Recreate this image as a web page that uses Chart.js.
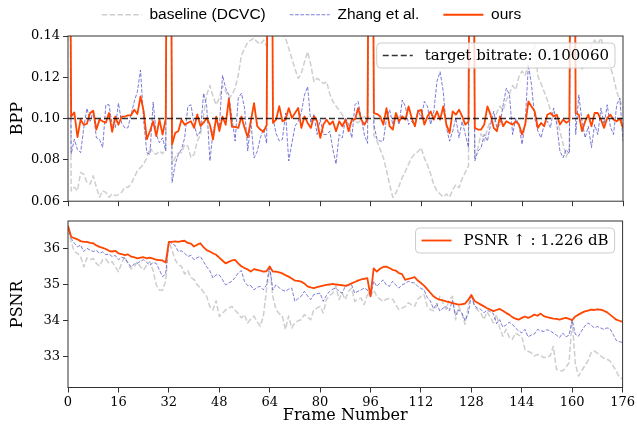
<!DOCTYPE html>
<html><head><meta charset="utf-8">
<script src="https://cdn.jsdelivr.net/npm/chart.js@4"></script>
<style>
html,body{margin:0;padding:0;background:#fff;overflow:hidden;}
#wrap{position:relative;width:637px;height:426px;background:#fff;}
#c1{position:absolute;left:0;top:-17px;width:637px;height:229px;}
#c2{position:absolute;left:0;top:200px;width:637px;height:226px;}
</style></head><body>
<div id="wrap"><canvas id="c1" width="637" height="229"></canvas><canvas id="c2" width="637" height="226"></canvas></div>
<script>
// ---------- data ----------
const frames = Array.from({length: 177}, (_, i) => i);
const xTicks = [0, 16, 32, 48, 64, 80, 96, 112, 128, 144, 160, 176];
const bppTicks = [0.06, 0.08, 0.10, 0.12, 0.14];
const psnrTicks = [33, 34, 35, 36];
const targetBpp = 0.100060;
const psnrGain = 1.226;
const seriesNames = ['baseline (DCVC)', 'Zhang et al.', 'ours'];

const oursBpp = [
0.4,0.101,0.103,0.091,0.0995,0.097,0.0975,0.1027,0.1038,0.0947,0.0995,0.0987,0.098,0.1027,0.0936,0.101,
0.097,0.101,0.101,0.1016,0.1016,0.1043,0.1022,0.1107,0.1035,0.090,0.094,0.0987,0.0915,0.0995,0.0923,0.100,
0.4,0.0875,0.093,0.094,0.0995,0.097,0.098,0.0987,0.0955,0.102,0.0965,0.098,0.1003,0.097,0.0899,0.101,
0.094,0.101,0.097,0.1095,0.096,0.096,0.0955,0.101,0.0955,0.091,0.099,0.1075,0.0963,0.0947,0.0936,0.097,
0.4,0.0979,0.0995,0.106,0.0987,0.0995,0.1051,0.1003,0.1027,0.1051,0.0955,0.1011,0.0979,0.0955,0.1011,0.0987,
0.0907,0.0971,0.0995,0.0971,0.0987,0.0939,0.0987,0.0963,0.0995,0.0939,0.0995,0.0995,0.1051,0.0995,0.097,0.1,
0.4,0.1027,0.1022,0.1011,0.0971,0.1051,0.0963,0.0947,0.1027,0.0987,0.1011,0.0995,0.1059,0.1003,0.0963,0.1035,
0.1043,0.0971,0.1011,0.1035,0.0995,0.1035,0.0995,0.1059,0.0971,0.093,0.1035,0.1019,0.1043,0.1011,0.0971,0.0985,
0.4,0.0955,0.0947,0.0947,0.0971,0.1059,0.1019,0.0955,0.0939,0.1011,0.0963,0.0987,0.0979,0.0971,0.0987,0.0971,
0.0923,0.0971,0.1083,0.1059,0.1035,0.0955,0.0979,0.0963,0.1019,0.1027,0.1011,0.1019,0.0971,0.0995,0.098,0.099,
0.4,0.1027,0.1019,0.0939,0.0987,0.1019,0.0963,0.1027,0.1027,0.0995,0.0955,0.1003,0.1019,0.0995,0.0987,0.1,
0.0955];

const zhangBpp = [
0.4,0.0827,0.090,0.085,0.0835,0.0955,0.105,0.0987,0.1035,0.0907,0.0899,0.086,0.1067,0.1067,0.0971,0.0955,
0.1075,0.0979,0.0955,0.0955,0.1019,0.1083,0.113,0.1235,0.0987,0.0835,0.0827,0.108,0.0923,0.0883,0.0907,0.0843,
0.4,0.069,0.078,0.0827,0.0851,0.0907,0.1059,0.1067,0.0971,0.0915,0.0939,0.1123,0.1059,0.0795,0.0939,0.0995,
0.0963,0.121,0.1147,0.1115,0.1003,0.0891,0.1099,0.1123,0.1051,0.0843,0.0987,0.081,0.084,0.0907,0.095,0.088,
0.4,0.1003,0.0928,0.0891,0.0899,0.1027,0.0795,0.088,0.0963,0.0987,0.103,0.1115,0.1155,0.0979,0.1019,0.0923,
0.0995,0.0923,0.0923,0.0939,0.085,0.078,0.0923,0.0907,0.1003,0.0971,0.0907,0.1067,0.1083,0.1003,0.092,0.088,
0.4,0.0971,0.0899,0.0891,0.0891,0.1003,0.1043,0.0971,0.1019,0.0971,0.109,0.1059,0.0971,0.0987,0.0963,0.1043,
0.1003,0.1083,0.1059,0.0971,0.1035,0.118,0.1227,0.1131,0.0955,0.0891,0.0939,0.1003,0.0907,0.0987,0.0923,0.086,
0.4,0.0795,0.0843,0.0859,0.0923,0.0891,0.0971,0.1035,0.0955,0.0971,0.1067,0.1147,0.1115,0.0923,0.1003,0.0971,
0.0875,0.0987,0.126,0.1163,0.1003,0.0939,0.0907,0.0971,0.0987,0.0955,0.1051,0.0971,0.0843,0.081,0.085,0.083,
0.4,0.0923,0.1115,0.0987,0.0907,0.0963,0.086,0.0971,0.0923,0.1051,0.0971,0.1067,0.096,0.0923,0.1067,0.11,
0.0891];

const baselineBpp = [
0.4,0.065,0.0667,0.065,0.0739,0.0731,0.0691,0.0683,0.0723,0.0667,0.0619,0.065,0.0643,0.0619,0.0635,0.0627,
0.0632,0.0643,0.0667,0.0667,0.0683,0.0715,0.0747,0.0763,0.0779,0.0811,0.0859,0.0835,0.0827,0.0843,0.083,0.0855,
0.4,0.0779,0.0811,0.0835,0.0835,0.0875,0.0867,0.0811,0.0827,0.0891,0.0923,0.1019,0.1115,0.116,0.1107,0.1067,
0.1099,0.116,0.1131,0.1099,0.1115,0.1147,0.1211,0.1307,0.1339,0.1371,0.138,0.139,0.137,0.136,0.138,0.135,
0.4,0.142,0.145,0.141,0.143,0.139,0.134,0.129,0.124,0.1195,0.122,0.1275,0.1323,0.126,0.1179,0.1195,
0.1185,0.117,0.1179,0.112,0.1083,0.106,0.104,0.1019,0.099,0.0971,0.0985,0.0987,0.098,0.0995,0.101,0.099,
0.4,0.092,0.0891,0.085,0.0811,0.075,0.068,0.0619,0.064,0.0675,0.0715,0.0745,0.078,0.0811,0.083,0.084,
0.0859,0.081,0.0775,0.0731,0.068,0.065,0.0635,0.062,0.0635,0.062,0.0655,0.068,0.0665,0.071,0.074,0.077,
0.4,0.081,0.086,0.0927,0.089,0.095,0.099,0.097,0.103,0.106,0.104,0.109,0.112,0.116,0.114,0.1203,
0.123,0.121,0.1268,0.1309,0.136,0.1205,0.117,0.113,0.109,0.104,0.101,0.0992,0.094,0.0878,0.0814,0.086,
0.4,0.125,0.128,0.124,0.127,0.131,0.135,0.138,0.136,0.139,0.134,0.13,0.125,0.12,0.113,0.109,
0.105];

const oursPsnr = [
36.65,36.34,36.3,36.27,36.22,36.2,36.2,36.17,36.16,36.1,36.06,36.03,36.0,35.95,35.93,35.95,
35.88,35.86,35.83,35.85,35.79,35.77,35.74,35.76,35.77,35.74,35.76,35.73,35.7,35.69,35.68,35.62,
36.2,36.2,36.21,36.2,36.22,36.23,36.17,36.15,36.07,36.12,36.16,36.05,35.97,35.93,35.88,35.84,
35.76,35.68,35.6,35.64,35.68,35.7,35.6,35.52,35.47,35.43,35.37,35.44,35.42,35.4,35.37,35.38,
35.51,35.37,35.37,35.35,35.32,35.27,35.23,35.18,35.12,35.11,35.09,35.04,34.96,34.93,34.91,34.94,
34.96,34.98,35.0,35.01,35.03,35.01,35.0,34.99,34.97,35.0,35.04,35.08,35.12,35.15,35.17,35.19,
34.68,35.46,35.37,35.45,35.5,35.51,35.47,35.42,35.4,35.33,35.3,35.14,35.17,35.19,35.22,35.12,
35.05,34.98,34.88,34.78,34.68,34.62,34.59,34.57,34.54,34.52,34.49,34.47,34.45,34.46,34.48,34.58,
34.72,34.55,34.5,34.45,34.4,34.35,34.31,34.27,34.3,34.33,34.28,34.22,34.17,34.1,34.06,34.03,
34.08,34.12,34.08,34.12,34.17,34.14,34.2,34.13,34.1,34.08,34.06,34.05,34.03,34.06,34.08,34.05,
34.02,34.12,34.17,34.22,34.26,34.28,34.31,34.3,34.32,34.31,34.28,34.24,34.17,34.1,34.03,34.0,
33.97];

const zhangPsnr = [
36.6,36.3,36.16,36.06,36.11,35.93,36.02,35.97,35.93,35.96,35.88,35.92,35.84,35.86,35.79,35.82,
35.7,35.77,35.74,35.62,35.5,35.58,35.6,35.66,35.7,35.62,35.55,35.62,35.6,35.42,35.23,35.3,
36.2,36.15,36.1,35.93,35.95,35.88,35.79,35.82,35.7,35.76,35.79,35.65,35.5,35.4,35.19,35.28,
35.28,35.15,35.0,35.05,35.1,35.2,35.33,35.4,35.1,34.98,34.98,34.86,34.93,34.96,34.86,35.0,
35.51,34.86,35.0,34.92,34.86,34.82,34.88,34.91,34.54,34.62,34.68,34.82,34.7,34.59,34.73,34.75,
34.77,34.54,34.7,34.82,34.88,34.91,34.82,34.77,34.96,34.98,35.0,34.77,34.82,34.86,34.91,34.86,
34.68,35.1,34.96,35.05,35.14,35.0,34.96,35.1,35.0,34.91,35.0,35.04,35.1,35.07,35.05,34.96,
34.9,34.86,34.65,34.55,34.33,34.48,34.27,34.35,34.4,34.28,34.57,34.15,34.3,34.22,34.0,34.2,
34.72,34.42,34.35,34.32,34.22,34.3,34.25,34.2,33.92,34.03,33.82,33.88,33.96,33.9,33.8,33.72,
33.66,33.76,33.55,33.6,33.63,33.76,33.72,33.7,33.75,33.72,33.66,33.6,33.53,33.66,33.55,33.6,
34.02,33.62,33.57,33.72,33.85,33.94,33.88,33.8,33.84,33.8,33.76,33.8,33.78,33.62,33.45,33.42,
33.39];

const baselinePsnr = [
36.55,36.2,35.93,35.88,35.79,35.5,35.75,35.7,35.74,35.6,35.52,35.7,35.72,35.6,35.65,35.5,
35.37,35.6,35.79,35.6,35.45,35.5,35.64,35.5,35.42,35.55,35.65,35.4,35.0,34.86,34.85,35.1,
36.2,35.97,35.7,35.56,35.52,35.3,35.4,35.2,35.15,35.0,34.92,34.8,34.68,34.4,34.3,34.56,
34.12,34.2,34.3,34.35,34.4,34.3,34.2,34.08,34.17,33.94,34.05,34.13,33.98,33.85,34.13,34.86,
35.51,34.68,34.31,34.2,34.13,33.76,34.13,33.8,33.94,34.0,34.03,34.17,34.1,34.03,34.31,34.35,
34.4,34.22,34.59,34.7,34.77,34.96,34.59,34.77,34.59,34.82,34.91,34.54,34.6,34.63,34.45,34.73,
34.68,34.86,34.68,34.6,34.54,34.6,34.62,34.6,34.45,34.31,34.35,34.4,34.5,34.45,34.4,34.6,
34.68,34.73,34.4,34.31,34.28,34.4,34.68,34.5,34.31,34.59,34.68,34.03,34.4,34.2,33.9,34.4,
34.72,34.4,34.3,34.22,34.03,34.25,34.1,33.94,34.17,33.8,33.57,33.76,33.55,33.48,33.66,33.6,
33.57,33.2,33.15,33.11,33.02,33.06,33.04,32.97,33.0,33.02,33.29,32.65,32.62,32.6,32.7,32.83,
34.02,32.8,32.46,32.6,32.75,32.88,33.11,33.16,33.1,33.02,32.96,32.93,32.88,32.74,32.6,32.42,
32.38];

// ---------- helpers ----------
const pts = arr => frames.map((f, i) => ({x: f, y: arr[i]}));
const SERIF = "'DejaVu Serif', serif";
const styles = [
  {color: 'rgba(165,165,165,0.55)', width: 1.5, dash: [5.5, 2.4], order: 3},
  {color: 'rgba(70,70,200,0.7)', width: 1, dash: [3.7, 1.6], order: 2},
  {color: '#ff4500', width: 1.8, dash: [], order: 1}
];
function mkSets(arrs) {
  return arrs.map((a, i) => ({
    label: seriesNames[i], data: pts(a),
    borderColor: styles[i].color, borderWidth: styles[i].width, borderDash: styles[i].dash,
    order: styles[i].order, pointRadius: 0, tension: 0, fill: false, clip: 0,
    borderJoinStyle: 'round'
  }));
}

const framePlugin = {
  id: 'frame',
  afterDatasetsDraw(chart, args, o) {
    const {ctx, chartArea: a} = chart;
    ctx.save();
    ctx.strokeStyle = '#333'; ctx.lineWidth = 1; ctx.setLineDash([]);
    ctx.strokeRect(a.left, a.top, a.right - a.left, a.bottom - a.top);
    if (o && o.text) {
      ctx.font = o.fontSize + 'px ' + SERIF;
      const tw = ctx.measureText(o.text).width;
      const pad = 6, hl = 30, gap = 12, h = 25;
      const w = pad + hl + gap + tw + pad;
      const x = a.right - 8 - w, y = a.top + 7;
      ctx.beginPath(); ctx.roundRect(x, y, w, h, 4);
      ctx.fillStyle = 'rgba(255,255,255,0.8)'; ctx.fill();
      ctx.strokeStyle = '#cccccc'; ctx.lineWidth = 1; ctx.stroke();
      const cy = y + h / 2;
      ctx.beginPath(); ctx.setLineDash(o.dash || []);
      ctx.strokeStyle = o.color; ctx.lineWidth = o.width;
      ctx.moveTo(x + pad, cy); ctx.lineTo(x + pad + hl, cy); ctx.stroke();
      ctx.setLineDash([]);
      ctx.fillStyle = '#000'; ctx.textBaseline = 'middle'; ctx.textAlign = 'left';
      ctx.fillText(o.text, x + pad + hl + gap, cy + 1);
    }
    ctx.restore();
  }
};

function xScale(showLabels, height) {
  return {
    type: 'linear', min: 0, max: 176,
    afterBuildTicks: s => { s.ticks = xTicks.map(v => ({value: v})); },
    ticks: {display: showLabels, color: '#000', padding: 2, maxRotation: 0, autoSkip: false,
      font: {family: SERIF, size: 13}},
    grid: {drawOnChartArea: false, drawTicks: true, tickLength: 5, tickColor: '#333', tickWidth: 1},
    border: {display: false},
    title: {display: showLabels, text: 'Frame Number', color: '#000',
      font: {family: SERIF, size: 16}, padding: {top: 0, bottom: 0.4}},
    afterFit: s => { s.height = height; }
  };
}
function yScale(min, max, tickVals, title, fmt) {
  return {
    type: 'linear', min: min, max: max,
    afterBuildTicks: s => { s.ticks = tickVals.map(v => ({value: v})); },
    ticks: {color: '#000', padding: 3, font: {family: SERIF, size: 13}, callback: fmt},
    grid: {drawOnChartArea: false, drawTicks: true, tickLength: 5, tickColor: '#333', tickWidth: 1},
    border: {display: false},
    title: {display: true, text: title, color: '#000', font: {family: SERIF, size: 16},
      padding: {top: 8, bottom: 0}},
    afterFit: s => { s.width = 68; }
  };
}

// ---------- top chart (BPP) ----------
const topSets = mkSets([baselineBpp, zhangBpp, oursBpp]);
topSets.push({
  label: 'target bitrate', data: frames.map(f => ({x: f, y: targetBpp})),
  borderColor: 'rgba(0,0,0,0.8)', borderWidth: 1.6, borderDash: [6, 3],
  order: 0, pointRadius: 0, fill: false, clip: 0
});

new Chart(document.getElementById('c1'), {
  type: 'line',
  data: {datasets: topSets},
  plugins: [framePlugin],
  options: {
    responsive: false, animation: false, devicePixelRatio: 1, events: [],
    layout: {padding: {left: 0, right: 14, top: 0, bottom: 0}},
    scales: {
      x: xScale(false, 10.5),
      y: yScale(0.06, 0.14, bppTicks, 'BPP', v => v.toFixed(2))
    },
    plugins: {
      tooltip: {enabled: false},
      title: {display: true, text: '', weight: 100, font: {size: 1}, padding: {top: 1.2, bottom: 1.1}},
      legend: {
        display: true, position: 'top', align: 'center',
        labels: {
          usePointStyle: true, pointStyle: 'line', pointStyleWidth: 40, padding: 24,
          color: '#000', font: {family: "'Liberation Sans', Arial, sans-serif", size: 15.5},
          generateLabels: chart => chart.data.datasets.slice(0, 3).map((ds, i) => ({
            text: ds.label, strokeStyle: ds.borderColor, lineWidth: ds.borderWidth,
            lineDash: ds.borderDash || [], fillStyle: 'rgba(0,0,0,0)', pointStyle: 'line',
            datasetIndex: i, hidden: false, fontColor: '#000', lineCap: 'butt'
          }))
        }
      },
      frame: {text: 'target bitrate: ' + targetBpp.toFixed(6), color: 'rgba(0,0,0,0.8)',
        width: 1.6, dash: [6, 3], fontSize: 15}
    }
  }
});

// ---------- bottom chart (PSNR) ----------
new Chart(document.getElementById('c2'), {
  type: 'line',
  data: {datasets: mkSets([baselinePsnr, zhangPsnr, oursPsnr])},
  plugins: [framePlugin],
  options: {
    responsive: false, animation: false, devicePixelRatio: 1, events: [],
    layout: {padding: {left: 0, right: 14, top: 21, bottom: 0}},
    scales: {
      x: xScale(true, 38.5),
      y: yScale(32.14, 36.78, psnrTicks, 'PSNR', v => String(v))
    },
    plugins: {
      tooltip: {enabled: false},
      legend: {display: false},
      frame: {text: 'PSNR \u2191 : ' + psnrGain.toFixed(3) + ' dB', color: '#ff4500',
        width: 1.8, dash: [], fontSize: 15}
    }
  }
});
</script>
</body></html>
